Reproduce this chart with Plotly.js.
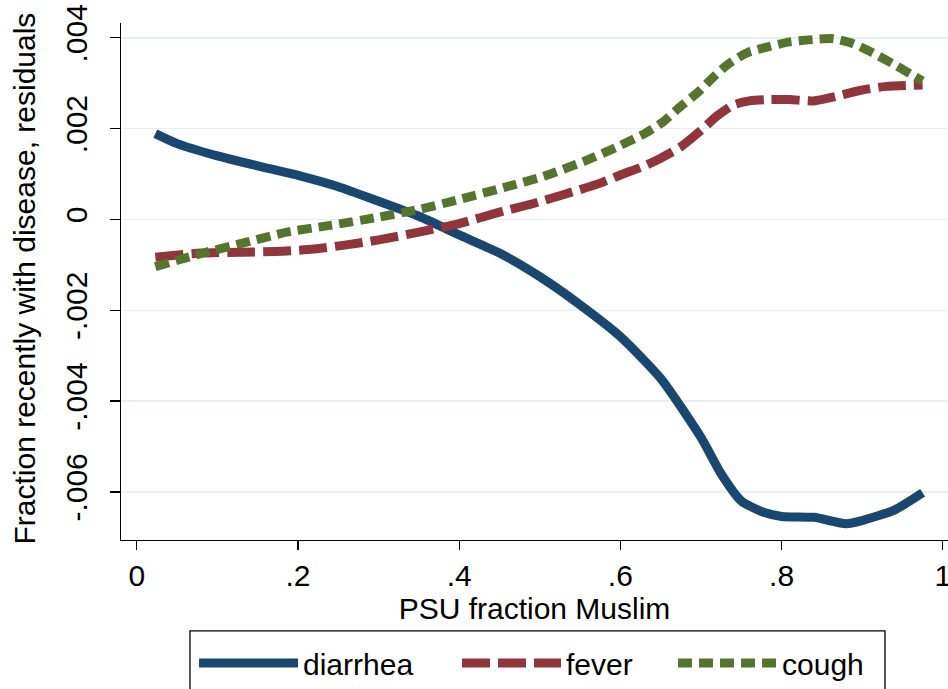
<!DOCTYPE html>
<html>
<head>
<meta charset="utf-8">
<script src="https://cdn.plot.ly/plotly-3.0.1.min.js"></script>
<style>html,body{margin:0;padding:0;background:#fff;}#chart{width:948px;height:689px;}</style>
</head>
<body>
<div id="chart"></div>
<script>
// Data
const diarrheaX = [0.023, 0.05, 0.10, 0.15, 0.20, 0.25, 0.30, 0.35, 0.40, 0.45, 0.50, 0.55, 0.60, 0.65, 0.70, 0.725, 0.75, 0.775, 0.80, 0.84, 0.88, 0.90, 0.94, 0.975];
const diarrheaY = [0.00189, 0.00167, 0.00140, 0.00118, 0.00097, 0.00072, 0.00040, 0.00007, -0.00034, -0.00074, -0.00126, -0.00188, -0.00258, -0.00350, -0.00480, -0.00560, -0.00620, -0.00643, -0.00654, -0.00656, -0.00670, -0.00663, -0.00640, -0.00602];

const feverX = [0.023, 0.08, 0.13, 0.18, 0.22, 0.26, 0.30, 0.35, 0.40, 0.45, 0.49, 0.53, 0.575, 0.60, 0.63, 0.65, 0.675, 0.70, 0.72, 0.74, 0.76, 0.785, 0.81, 0.84, 0.865, 0.897, 0.93, 0.975];
const feverY = [-0.00083, -0.00074, -0.00072, -0.00070, -0.00065, -0.00056, -0.00045, -0.00028, -0.00009, 0.00016, 0.00034, 0.00055, 0.00080, 0.00098, 0.00118, 0.00135, 0.00160, 0.00196, 0.00228, 0.00252, 0.00261, 0.00264, 0.00264, 0.00261, 0.00270, 0.00284, 0.00293, 0.00296];

const coughX = [0.023, 0.08, 0.136, 0.186, 0.24, 0.30, 0.35, 0.40, 0.455, 0.505, 0.555, 0.60, 0.63, 0.653, 0.674, 0.695, 0.714, 0.733, 0.757, 0.783, 0.81, 0.838, 0.864, 0.889, 0.913, 0.938, 0.963, 0.975];
const coughY = [-0.00104, -0.00075, -0.00050, -0.00028, -0.00013, 0.00005, 0.00022, 0.00044, 0.00070, 0.00095, 0.00128, 0.00163, 0.00189, 0.00215, 0.00248, 0.00278, 0.00311, 0.00341, 0.00367, 0.00380, 0.00391, 0.00396, 0.00398, 0.00387, 0.00367, 0.00343, 0.00317, 0.00305];

const seriesNames = ["diarrhea", "fever", "cough"];
const xTickVals = [0, 0.2, 0.4, 0.6, 0.8, 1];
const xTickText = ["0", ".2", ".4", ".6", ".8", "1"];
const yTickVals = [-0.006, -0.004, -0.002, 0, 0.002, 0.004];
const yTickText = ["-.006", "-.004", "-.002", "0", ".002", ".004"];
const xTitle = "PSU fraction Muslim";
const yTitle = "Fraction recently with disease, residuals";

const FONT = "Liberation Sans, Arial, Helvetica, sans-serif";

const traces = [
  {x: diarrheaX, y: diarrheaY, name: seriesNames[0], type: "scatter", mode: "lines", legend: "legend",
   line: {color: "#1a476f", width: 9, shape: "spline", smoothing: 0.6}},
  {x: feverX, y: feverY, name: seriesNames[1], type: "scatter", mode: "lines", legend: "legend2",
   line: {color: "#90353b", width: 9, dash: "28px,8px", shape: "spline", smoothing: 0.6}},
  {x: coughX, y: coughY, name: seriesNames[2], type: "scatter", mode: "lines", legend: "legend3",
   line: {color: "#55752f", width: 9, dash: "14px,7px", shape: "spline", smoothing: 0.6}}
];

function legendAt(xp) {
  return {
    orientation: "h", x: xp, xanchor: "left", y: -0.1876, yanchor: "top",
    bgcolor: "rgba(0,0,0,0)", borderwidth: 0,
    font: {family: FONT, size: 30, color: "#000"},
    itemwidth: 99
  };
}

const layout = {
  width: 948, height: 689,
  paper_bgcolor: "#ffffff", plot_bgcolor: "#ffffff",
  margin: {l: 121, r: 0, t: 23, b: 142, pad: 0},
  font: {family: FONT, size: 30, color: "#000"},
  showlegend: true,
  xaxis: {
    range: [-0.0196, 1.0065], tickvals: xTickVals, ticktext: xTickText,
    ticks: "outside", ticklen: 9, tickwidth: 1.3, tickcolor: "#000",
    showline: true, linecolor: "#000", linewidth: 1.3,
    showgrid: false, zeroline: false, ticklabeloverflow: "allow",
    tickfont: {family: FONT, size: 30, color: "#000"},
    title: {text: xTitle, font: {family: FONT, size: 30, color: "#000"}, standoff: 1},
    automargin: false
  },
  yaxis: {
    range: [-0.007059, 0.004326], tickvals: yTickVals, ticktext: yTickText,
    tickangle: -90, ticklabelstandoff: 11,
    ticks: "outside", ticklen: 10, tickwidth: 1.3, tickcolor: "#000",
    showline: true, linecolor: "#000", linewidth: 1.3,
    showgrid: true, gridcolor: "#e8eff3", gridwidth: 1.5, zeroline: false,
    tickfont: {family: FONT, size: 30, color: "#000"},
    automargin: false
  },
  annotations: [
    {text: yTitle, xref: "paper", yref: "paper", x: -0.1161, y: 0.5057,
     xanchor: "center", yanchor: "middle", textangle: -90, showarrow: false,
     font: {family: FONT, size: 30, color: "#000"}}
  ],
  legend: legendAt(0.0883),
  legend2: legendAt(0.4063),
  legend3: legendAt(0.6675),
  shapes: [
    {type: "rect", xref: "paper", yref: "paper", x0: 0.0834, x1: 0.9238, y0: -0.1756, y1: -0.40,
     line: {color: "#000", width: 1.3}, fillcolor: "rgba(0,0,0,0)", layer: "below"}
  ]
};

Plotly.newPlot("chart", traces, layout, {displayModeBar: false, staticPlot: true});
</script>
</body>
</html>
